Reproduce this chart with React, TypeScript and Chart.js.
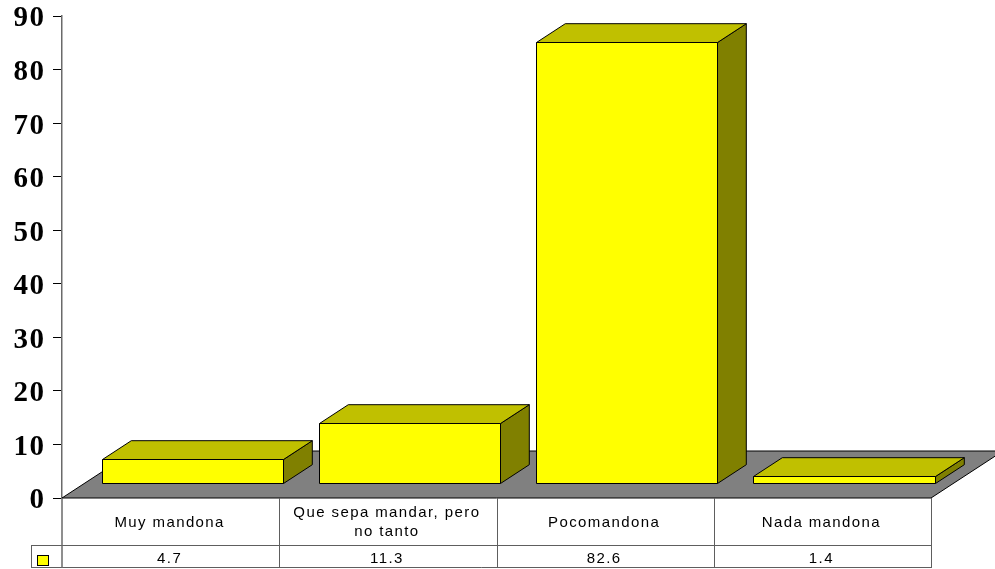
import React, { useEffect, useRef } from "react";
import { Chart, registerables } from "chart.js";

Chart.register(...registerables);

const categories: (string | string[])[] = [
  "Muy mandona",
  ["Que sepa mandar, pero", "no tanto"],
  "Pocomandona",
  "Nada mandona",
];
const values: number[] = [4.7, 11.3, 82.6, 1.4];
const valueLabels: string[] = ["4.7", "11.3", "82.6", "1.4"];
const yTicks: number[] = [0, 10, 20, 30, 40, 50, 60, 70, 80, 90];

const FRONT = "#ffff00";
const TOP = "#c0c000";
const SIDE = "#808000";
const FLOOR = "#808080";
const GRID = "#5e5e5e";

// 3D geometry (pixel offsets for floor depth)
const FLOOR_DX = 72;
const FLOOR_DY = -47;
const BAR_START = 0.3; // fraction of floor depth where bar front sits
const BAR_DEPTH = 0.4; // fraction of floor depth the bar occupies

const threeD = {
  id: "threeD",
  beforeDraw(chart: any) {
    (chart.ctx as any).letterSpacing = "1.5px";
  },
  beforeDatasetsDraw(chart: any) {
    const { ctx, chartArea } = chart;
    (ctx as any).letterSpacing = "0px";
    const y0 = chart.scales.y.getPixelForValue(0);
    ctx.save();
    ctx.beginPath();
    ctx.moveTo(chartArea.left, y0);
    ctx.lineTo(chartArea.right, y0);
    ctx.lineTo(chartArea.right + FLOOR_DX, y0 + FLOOR_DY);
    ctx.lineTo(chartArea.left + FLOOR_DX, y0 + FLOOR_DY);
    ctx.closePath();
    ctx.fillStyle = FLOOR;
    ctx.fill();
    ctx.strokeStyle = "#000";
    ctx.lineWidth = 1;
    ctx.stroke();
    ctx.restore();
  },
  afterDatasetsDraw(chart: any) {
    const { ctx } = chart;
    const meta = chart.getDatasetMeta(0);
    const ox = FLOOR_DX * BAR_START;
    const oy = FLOOR_DY * BAR_START;
    const dx = FLOOR_DX * BAR_DEPTH;
    const dy = FLOOR_DY * BAR_DEPTH;
    ctx.save();
    ctx.lineWidth = 1;
    ctx.strokeStyle = "#000";
    ctx.lineJoin = "miter";
    meta.data.forEach((el: any) => {
      const p = el.getProps(["x", "y", "base", "width"], true);
      const L = Math.round(p.x - p.width / 2 + ox) + 0.5;
      const R = Math.round(p.x + p.width / 2 + ox) + 0.5;
      const T = Math.round(p.y + oy) + 0.5;
      const B = Math.round(p.base + oy) + 0.5;
      // side
      ctx.beginPath();
      ctx.moveTo(R, T);
      ctx.lineTo(R + dx, T + dy);
      ctx.lineTo(R + dx, B + dy);
      ctx.lineTo(R, B);
      ctx.closePath();
      ctx.fillStyle = SIDE;
      ctx.fill();
      ctx.stroke();
      // top
      ctx.beginPath();
      ctx.moveTo(L, T);
      ctx.lineTo(R, T);
      ctx.lineTo(R + dx, T + dy);
      ctx.lineTo(L + dx, T + dy);
      ctx.closePath();
      ctx.fillStyle = TOP;
      ctx.fill();
      ctx.stroke();
      // front
      ctx.beginPath();
      ctx.rect(L, T, R - L, B - T);
      ctx.fillStyle = FRONT;
      ctx.fill();
      ctx.stroke();
    });
    ctx.restore();
  },
  afterDraw(chart: any) {
    const { ctx, chartArea } = chart;
    const xs = chart.scales.x;
    const left = chartArea.left;
    const right = chartArea.right;
    const top = chartArea.bottom;
    const row1 = top + 47;
    const row2 = top + 69;
    const keyLeft = 31;
    const n = categories.length;
    const colW = (right - left) / n;
    ctx.save();
    ctx.strokeStyle = GRID;
    ctx.lineWidth = 1;
    const hl = (x1: number, x2: number, y: number) => {
      ctx.beginPath();
      ctx.moveTo(x1, Math.round(y) + 0.5);
      ctx.lineTo(x2, Math.round(y) + 0.5);
      ctx.stroke();
    };
    const vl = (x: number, y1: number, y2: number) => {
      ctx.beginPath();
      ctx.moveTo(Math.round(x) + 0.5, y1);
      ctx.lineTo(Math.round(x) + 0.5, y2);
      ctx.stroke();
    };
    hl(keyLeft, right, row1);
    hl(keyLeft, right + 0.5, row2);
    vl(keyLeft, row1, row2 + 1);
    for (let i = 1; i <= n; i++) {
      vl(left + colW * i, top, row2 + 1);
    }
    // axis continuation through the table
    ctx.strokeStyle = "#6a6a6a";
    ctx.lineWidth = 1.5;
    ctx.beginPath();
    ctx.moveTo(left, top);
    ctx.lineTo(left, row2 + 1);
    ctx.stroke();
    // legend key
    ctx.fillStyle = FRONT;
    ctx.strokeStyle = "#000";
    ctx.lineWidth = 1;
    ctx.fillRect(37.5, 555.5, 11, 10);
    ctx.strokeRect(37.5, 555.5, 11, 10);
    // texts
    ctx.fillStyle = "#000";
    ctx.font = '15px "Liberation Sans", Arial, sans-serif';
    (ctx as any).letterSpacing = "1.4px";
    ctx.textAlign = "center";
    ctx.textBaseline = "middle";
    categories.forEach((c, i) => {
      const cx = xs.getPixelForValue(i) - 1;
      const lines = Array.isArray(c) ? c : [c];
      const lh = 19;
      const mid = (top + row1) / 2 + 1;
      lines.forEach((t, j) => {
        const yy = mid + (j - (lines.length - 1) / 2) * lh;
        ctx.fillText(t, cx, yy);
      });
      ctx.fillText(valueLabels[i], cx, (row1 + row2) / 2 + 3);
    });
    ctx.restore();
  },
};

export default function App() {
  const ref = useRef<HTMLCanvasElement>(null);
  useEffect(() => {
    document.body.style.margin = "0";
    const canvas = ref.current!;
    const chart = new Chart(canvas, {
      type: "bar",
      data: {
        labels: categories as any,
        datasets: [
          {
            data: values,
            backgroundColor: "rgba(0,0,0,0)",
            borderWidth: 0,
            barPercentage: 0.834,
            categoryPercentage: 1,
          },
        ],
      },
      options: {
        responsive: false,
        animation: false,
        devicePixelRatio: 1,
        layout: { padding: { left: 0, right: 64, top: 16, bottom: 71 } },
        plugins: {
          legend: { display: false },
          tooltip: { enabled: false },
        },
        scales: {
          x: { display: false, offset: true },
          y: {
            min: 0,
            max: 90,
            afterFit: (s: any) => {
              s.width = 62;
              s.paddingTop = 0;
              s.paddingBottom = 0;
            },
            afterBuildTicks: (s: any) => {
              s.ticks = yTicks.map((v) => ({ value: v }));
            },
            border: { display: true, color: "#6a6a6a", width: 1.5 },
            grid: {
              display: true,
              drawOnChartArea: false,
              drawTicks: true,
              tickLength: 9,
              color: "#000",
            },
            ticks: {
              color: "#000",
              padding: 7.5,
              labelOffset: 3,
              font: {
                family: '"Liberation Serif", "Times New Roman", serif',
                size: 29,
                weight: "bold",
                lineHeight: 1,
              },
            },
          },
        },
      },
      plugins: [threeD],
    });
    return () => chart.destroy();
  }, []);
  return <canvas ref={ref} width={995} height={569} style={{ display: "block" }} />;
}
